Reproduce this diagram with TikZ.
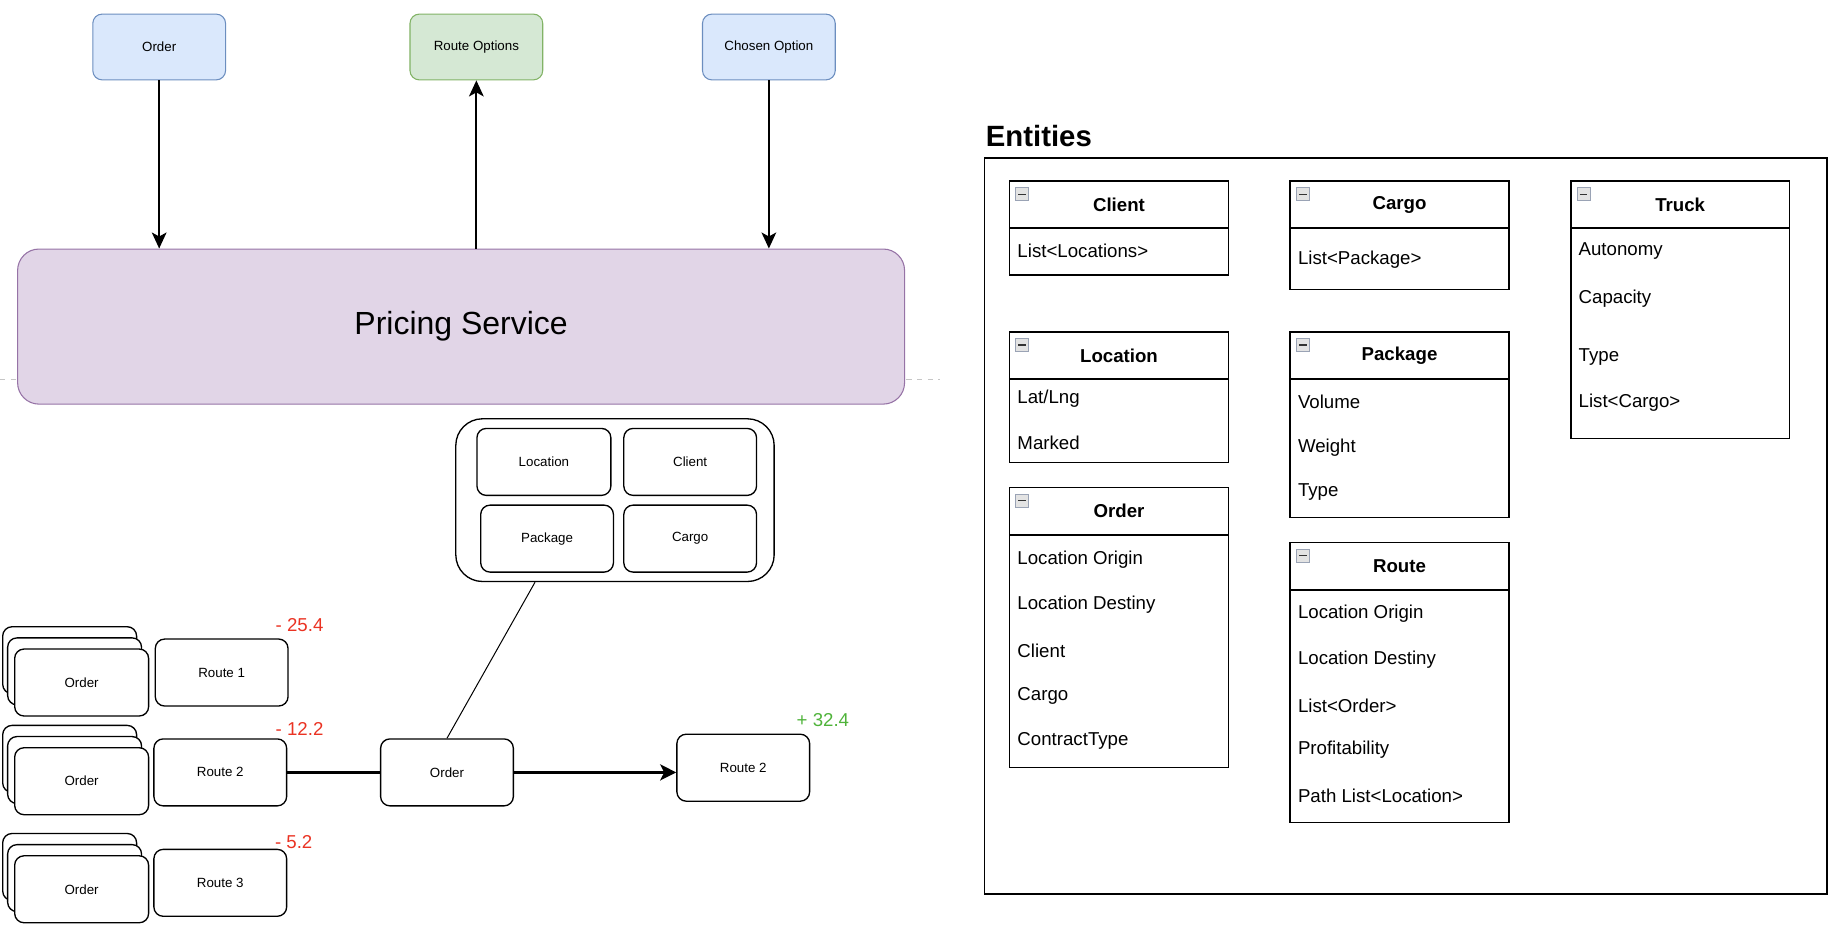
\documentclass[tikz,border=0pt]{standalone}
\usepackage{fontspec}
\setmainfont{Liberation Sans}
\usetikzlibrary{arrows.meta,calc}
\newdimen\unitP
\unitP=0.88125pt
\definecolor{bFill}{HTML}{DAE8FC}
\definecolor{bDraw}{HTML}{6C8EBF}
\definecolor{gFill}{HTML}{D5E8D4}
\definecolor{gDraw}{HTML}{82B366}
\definecolor{pFill}{HTML}{E1D5E7}
\definecolor{pDraw}{HTML}{9673A6}
\definecolor{numRed}{HTML}{EA3323}
\definecolor{numGreen}{HTML}{4FB33A}
\definecolor{iconDraw}{HTML}{9AA3B5}
\newcommand{\entbox}[5]{%
  \node[entbody, minimum height=#4\unitP, anchor=north west] (#1) at (#2,#3) {};
  \node[enthead, anchor=north west] (#1-h) at (#2,#3) {#5};
  \node[minusicon] (#1-m) at ($(#2,#3)+(11.5,12.1)$) {};
}
\begin{document}
\begin{tikzpicture}[x=0.88125pt,y=-0.88125pt,
  sbox/.style={draw, line width=1pt, rounded corners=7pt, minimum width=113\unitP, minimum height=57\unitP, inner sep=0pt, fill=white, font=\fontsize{10}{12}\selectfont},
  topblue/.style={sbox, fill=bFill, draw=bDraw, line width=0.8pt, minimum height=56\unitP},
  topgreen/.style={sbox, fill=gFill, draw=gDraw, line width=0.8pt, minimum height=56\unitP},
  arr/.style={line width=1.5pt, -{Stealth[length=12pt,width=11pt,inset=3pt]}},
  thickarr/.style={line width=2.5pt, -{Stealth[length=12pt,width=12pt,inset=3pt]}},
  numlbl/.style={font=\fontsize{14}{16}\selectfont, text=numRed, inner sep=0pt},
  entbody/.style={draw, line width=1.3pt, fill=white, minimum width=186.2\unitP, inner sep=0pt},
  enthead/.style={draw, line width=1.3pt, minimum width=186.2\unitP, minimum height=40.3\unitP, inner sep=0pt, font=\fontsize{14}{16}\selectfont\bfseries},
  attr/.style={anchor=west, inner sep=0pt, font=\fontsize{14}{16}\selectfont},
  minusicon/.style={draw=iconDraw, fill=gray!22, line width=0.6pt, minimum size=11\unitP, inner sep=0pt,
    path picture={\draw[line width=1pt, black!80] ([xshift=2pt]path picture bounding box.west) -- ([xshift=-2pt]path picture bounding box.east);}}
]
\useasboundingbox (0,0) rectangle (1568,805.3);

% dashed guide line
\coordinate (dl) at (0,323);
\coordinate (dr) at (800,323);
\draw[gray!45, line width=0.8pt, dash pattern=on 4pt off 4pt] (dl) -- (dr);

% top boxes
\node[topblue] (tOrder) at (135.5,40) {Order};
\node[topgreen] (tRoute) at (405.5,40) {Route Options};
\node[topblue] (tChosen) at (654.5,40) {Chosen Option};

% pricing service
\node[draw=pDraw, fill=pFill, line width=0.8pt, rounded corners=16pt, minimum width=755\unitP, minimum height=132\unitP, font=\fontsize{24}{28}\selectfont] (pricing) at (392.5,278) {Pricing Service};

\draw[arr] (tOrder.south) -- (tOrder.south |- pricing.north);
\draw[arr] (tRoute.south |- pricing.north) -- (tRoute.south);
\draw[arr] (tChosen.south) -- (tChosen.south |- pricing.north);

% container of entities
\node[draw, line width=1pt, rounded corners=20pt, minimum width=271\unitP, minimum height=138.5\unitP, inner sep=0pt] (cont) at (523.5,425.75) {};
\node[sbox, minimum width=114\unitP] (cLoc) at (463,393.2) {Location};
\node[sbox] (cCli) at (587.5,393.2) {Client};
\node[sbox] (cPkg) at (465.7,458.5) {Package};
\node[sbox] (cCar) at (587.5,458.5) {Cargo};

% middle order and routes
\node[sbox] (mOrder) at (380.5,657.5) {Order};
\draw[line width=0.75pt] ($(cont.south west)!0.25!(cont.south east)$) -- (mOrder.north);
\node[sbox] (rRoute) at (632.7,653.5) {Route 2};
\node[numlbl, text=numGreen] (plus) at (700.5,613) {+ 32.4};
\draw[thickarr] (mOrder.east) -- (rRoute.west |- mOrder.east);

% stacks
\node[sbox, minimum width=114\unitP] (s1c) at (59.3,562) {};
\node[sbox, minimum width=114\unitP] (s1b) at (63.5,571.5) {};
\node[sbox, minimum width=114\unitP] (s1a) at (69.5,581) {Order};
\node[sbox, minimum width=114\unitP] (s2c) at (59.3,646) {};
\node[sbox, minimum width=114\unitP] (s2b) at (63.5,655.5) {};
\node[sbox, minimum width=114\unitP] (s2a) at (69.5,665) {Order};
\node[sbox, minimum width=114\unitP] (s3c) at (59.3,738) {};
\node[sbox, minimum width=114\unitP] (s3b) at (63.5,747.5) {};
\node[sbox, minimum width=114\unitP] (s3a) at (69.5,757) {Order};

\node[sbox] (r1) at (188.7,572.5) {Route 1};
\node[sbox] (r2) at (187.5,657.5) {Route 2};
\node[sbox] (r3) at (187.5,751.5) {Route 3};
\node[numlbl] (n1) at (255,532) {- 25.4};
\node[numlbl] (n2) at (255,620.5) {- 12.2};
\node[numlbl] (n3) at (250,717) {- 5.2};
\draw[line width=2.5pt] (r2.east) -- (mOrder.west);

% entities panel
\node[anchor=west, inner sep=0pt, font=\fontsize{22}{26}\selectfont\bfseries] (entTitle) at (839,116) {Entities};
\node[draw, line width=1.1pt, minimum width=717\unitP, minimum height=626.5\unitP, inner sep=0pt, anchor=north west] (entPanel) at (837.5,134) {};

\entbox{client}{858.7}{153.2}{80.3}{Client}
\node[attr] (client-1) at (865.9,213.6) {List<Locations>};

\entbox{cargo}{1097.5}{153.2}{92.5}{Cargo}
\node[attr] (cargo-1) at (1104.7,220.7) {List<Package>};

\entbox{truck}{1336.4}{153.2}{219.3}{Truck}
\node[attr] (truck-1) at (1343.6,213.6) {Autonomy};
\node[attr] (truck-2) at (1343.6,253.9) {Capacity};
\node[attr] (truck-3) at (1343.6,304.1) {Type};
\node[attr] (truck-4) at (1343.6,342.4) {List<Cargo>};

\entbox{loc}{858.7}{281.7}{111.2}{Location}
\node[attr] (loc-1) at (865.9,339.6) {Lat/Lng};
\node[attr] (loc-2) at (865.9,376.7) {Marked};

\entbox{pkg}{1097.5}{281.7}{158}{Package}
\node[attr] (pkg-1) at (1104.7,342.4) {Volume};
\node[attr] (pkg-2) at (1104.7,381) {Weight};
\node[attr] (pkg-3) at (1104.7,419) {Type};

\entbox{order}{858.7}{414.2}{238.3}{Order}
\node[attr] (order-1) at (865.9,476) {Location Origin};
\node[attr] (order-2) at (865.9,514.9) {Location Destiny};
\node[attr] (order-3) at (865.9,553.8) {Client};
\node[attr] (order-4) at (865.9,592) {Cargo};
\node[attr] (order-5) at (865.9,630.6) {ContractType};

\entbox{route}{1097.5}{461}{238.3}{Route}
\node[attr] (route-1) at (1104.7,522.8) {Location Origin};
\node[attr] (route-2) at (1104.7,561.7) {Location Destiny};
\node[attr] (route-3) at (1104.7,600.6) {List<Order>};
\node[attr] (route-4) at (1104.7,638.3) {Profitability};
\node[attr] (route-5) at (1104.7,677.4) {Path List<Location>};
\end{tikzpicture}
\end{document}
